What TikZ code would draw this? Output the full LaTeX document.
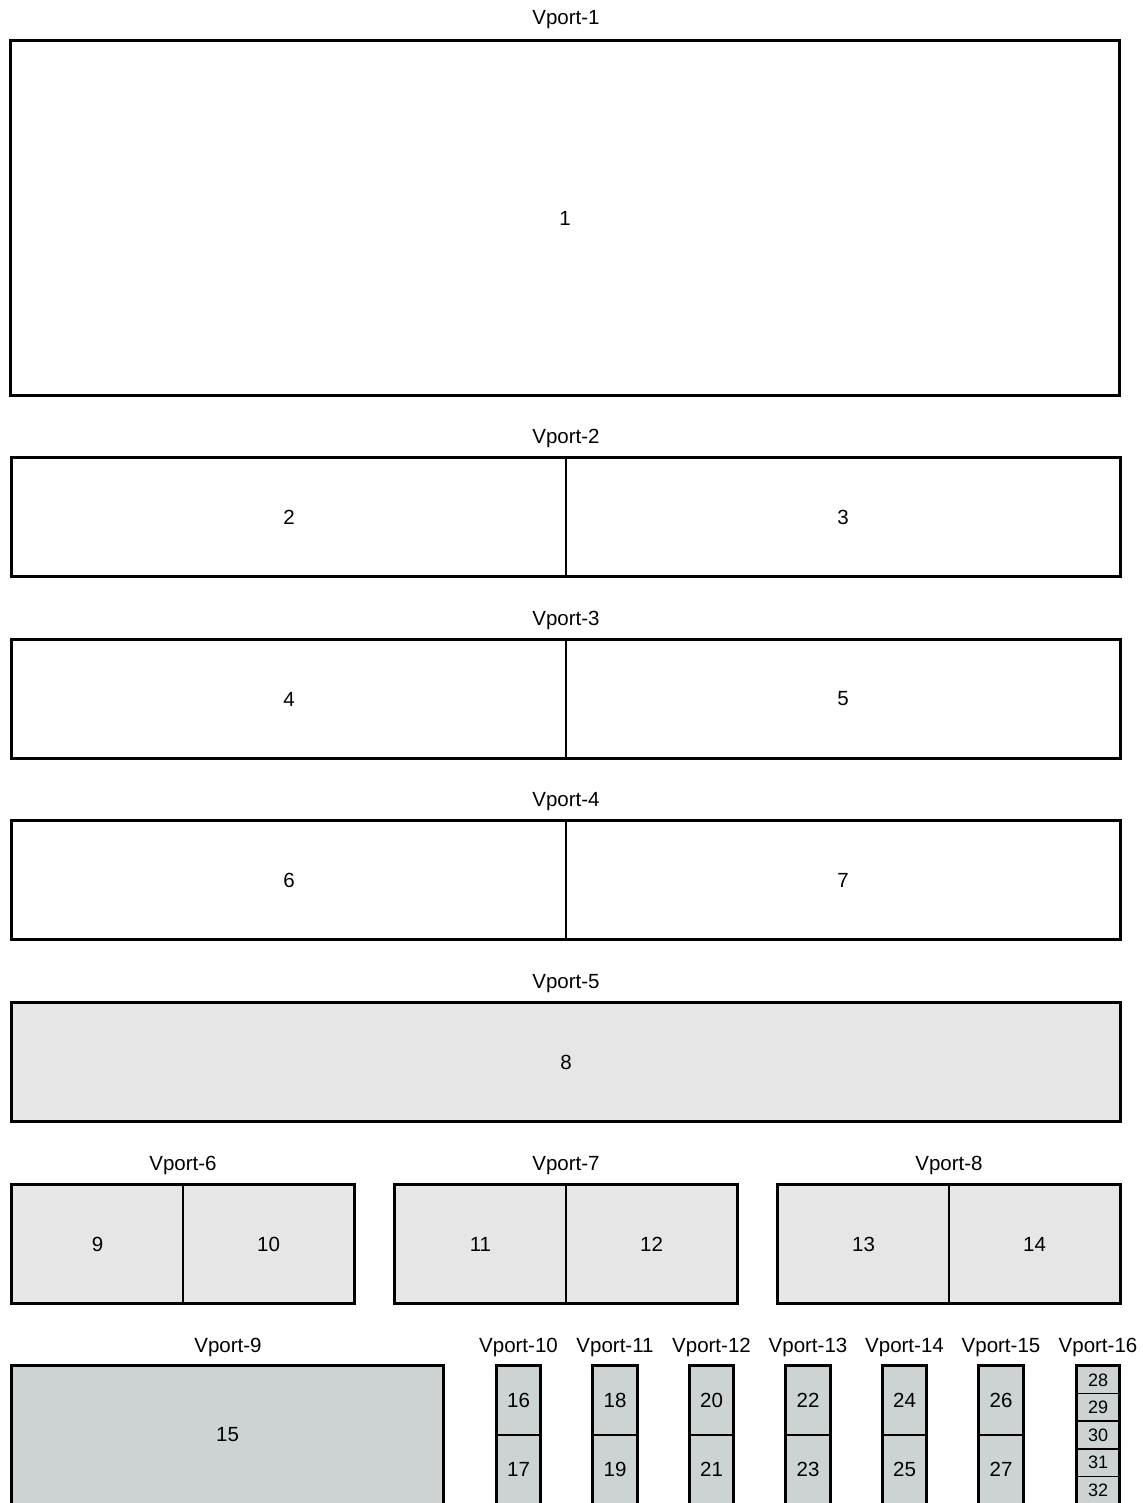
\documentclass[tikz,border=0pt]{standalone}
\usepackage{fontspec}
\setmainfont{Liberation Sans}
\usetikzlibrary{positioning}

\begin{document}
\begin{tikzpicture}[x=1pt,y=-1pt,
  font=\fontsize{20.5}{24}\selectfont,
  cell/.style={rectangle,draw=black,line width=1.6pt,fill=#1,inner sep=0pt,align=center},
  cell/.default=white,
  frame/.style={draw=black,line width=2.8pt},
  lbl/.style={inner sep=0pt,anchor=center,text height=15pt,text depth=4pt},
]
  \definecolor{vplain}{HTML}{FFFFFF}
  \definecolor{vlight}{HTML}{E6E6E6}
  \definecolor{vslate}{HTML}{CDD3D3}
  \useasboundingbox[fill=white] (0,0) rectangle (1142,1503);

  % Vport-1
  \node[cell=vplain,minimum width=1108pt,minimum height=354pt] (c1) at (565,218) {1};
  \draw[frame] (c1.north west) rectangle (c1.south east);
  \node[lbl] (v1) at (566,19) {Vport-1};

  % Vport-2 .. Vport-4 (two cells each)
  \foreach \r/\y in {2/517,3/699,4/880}{
    \pgfmathtruncatemacro{\na}{2*\r-2}
    \pgfmathtruncatemacro{\nb}{2*\r-1}
    \node[cell=vplain,minimum width=554pt,minimum height=118pt] (l\r) at (289,\y) {\na};
    \node[cell=vplain,minimum width=554pt,minimum height=118pt] (r\r) at (843,\y) {\nb};
    \draw[frame] (l\r.north west) rectangle (r\r.south east);
    \node[lbl] (v\r) at (566,\y-79) {Vport-\r};
  }

  % Vport-5
  \node[cell=vlight,minimum width=1108pt,minimum height=118pt] (c8) at (566,1062) {8};
  \draw[frame] (c8.north west) rectangle (c8.south east);
  \node[lbl] (v5) at (566,983) {Vport-5};

  % Vport-6 .. Vport-8
  \foreach \i/\x in {0/183,1/566,2/949}{
    \pgfmathtruncatemacro{\na}{9+2*\i}
    \pgfmathtruncatemacro{\nb}{10+2*\i}
    \pgfmathtruncatemacro{\vp}{6+\i}
    \node[cell=vlight,minimum width=171pt,minimum height=118pt] (a\i) at (\x-85.5,1244) {\na};
    \node[cell=vlight,minimum width=171pt,minimum height=118pt] (b\i) at (\x+85.5,1244) {\nb};
    \draw[frame] (a\i.north west) rectangle (b\i.south east);
    \node[lbl] (v\vp) at (\x,1165) {Vport-\vp};
  }

  % Vport-9
  \node[cell=vslate,minimum width=431pt,minimum height=138pt] (c15) at (227.5,1435) {15};
  \draw[frame] (c15.north west) rectangle (c15.south east);
  \node[lbl] (v9) at (228,1347) {Vport-9};

  % Vport-10 .. Vport-15
  \foreach \i in {0,...,5}{
    \pgfmathsetmacro{\x}{518.5+96.5*\i}
    \pgfmathtruncatemacro{\na}{16+2*\i}
    \pgfmathtruncatemacro{\nb}{17+2*\i}
    \pgfmathtruncatemacro{\vp}{10+\i}
    \node[cell=vslate,minimum width=43pt,minimum height=69pt] (t\i) at (\x,1400.5) {\na};
    \node[cell=vslate,minimum width=43pt,minimum height=69pt] (u\i) at (\x,1469.5) {\nb};
    \draw[frame] (t\i.north west) rectangle (u\i.south east);
    \node[lbl] (v\vp) at (\x,1347) {Vport-\vp};
  }

  % Vport-16 (five small cells)
  \foreach \k in {0,...,4}{
    \pgfmathtruncatemacro{\n}{28+\k}
    \node[cell=vslate,minimum width=42pt,minimum height=27.6pt,
          font=\fontsize{18}{20}\selectfont] (s\k) at (1098,1379.8+27.6*\k) {\n};
  }
  \draw[frame] (s0.north west) rectangle (s4.south east);
  \node[lbl] (v16) at (1098,1347) {Vport-16};
\end{tikzpicture}
\end{document}
